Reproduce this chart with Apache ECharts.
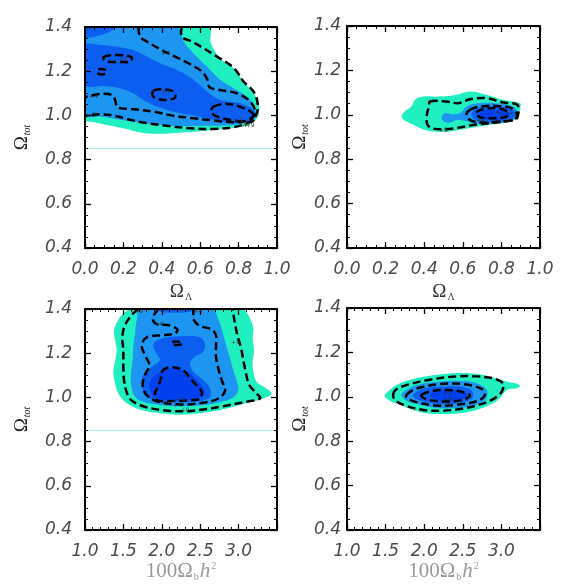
<!DOCTYPE html>
<html><head><meta charset="utf-8">
<script src="https://cdn.jsdelivr.net/npm/echarts@6/dist/echarts.min.js"></script>
<style>html,body{margin:0;padding:0;background:#fff}#c{width:566px;height:585px}</style>
</head><body><div id="c"></div>
<script>
// ---------- tick labels ----------
const yTickLabels = ['0.4','0.6','0.8','1.0','1.2','1.4'];
const lambdaTickLabels = ['0.0','0.2','0.4','0.6','0.8','1.0'];
const baryonTickLabels = ['1.0','1.5','2.0','2.5','3.0',''];

// ---------- reference line (Omega_tot = 0.85) ----------
const refLineLambda = [[0,0.85],[1,0.85]];
const refLineBaryon = [[1.0,0.85],[3.5,0.85]];

// ---------- top-left: Omega_Lambda vs Omega_tot ----------
const tlFill1 = [[0,1.4],[0.643,1.4],[0.656,1.326],[0.704,1.258],[0.774,1.213],[0.826,1.153],[0.878,1.1],[0.904,1.055],[0.904,1.002],[0.87,0.965],[0.809,0.947],[0.687,0.935],[0.53,0.924],[0.374,0.917],[0.287,0.923],[0.2,0.942],[0.113,0.957],[0.026,0.972],[0,0.977]];
const tlFill2 = [[0,1.4],[0.496,1.4],[0.51,1.341],[0.565,1.281],[0.635,1.221],[0.704,1.161],[0.774,1.123],[0.843,1.085],[0.882,1.04],[0.887,1.002],[0.852,0.972],[0.774,0.957],[0.635,0.953],[0.461,0.953],[0.322,0.962],[0.183,0.98],[0.078,0.995],[0,1.002]];
const tlFill3 = [[0,1.319],[0.078,1.319],[0.165,1.311],[0.252,1.296],[0.322,1.266],[0.391,1.236],[0.478,1.206],[0.565,1.161],[0.635,1.108],[0.704,1.07],[0.809,1.055],[0.878,1.025],[0.892,0.995],[0.843,0.968],[0.739,0.968],[0.635,0.987],[0.548,1.002],[0.461,1.017],[0.374,1.04],[0.304,1.07],[0.252,1.1],[0.183,1.123],[0.096,1.133],[0,1.138]];
const tlFill3b = [[0,1.4],[0.157,1.4],[0.13,1.379],[0.061,1.359],[0,1.353]];
const tlDash9 = [[0.504,1.4],[0.504,1.356],[0.557,1.334],[0.617,1.304],[0.687,1.266],[0.757,1.228],[0.791,1.198],[0.826,1.153],[0.878,1.108],[0.899,1.055],[0.892,1.002],[0.852,0.968],[0.774,0.947],[0.67,0.939],[0.548,0.942],[0.426,0.953],[0.322,0.965],[0.235,0.98],[0.157,0.998],[0.078,1.005],[0,0.998]];
const tlDash4 = [[0.278,1.4],[0.287,1.356],[0.322,1.334],[0.391,1.3],[0.461,1.269],[0.539,1.236],[0.609,1.198],[0.638,1.161],[0.649,1.127],[0.704,1.115],[0.791,1.1],[0.852,1.07],[0.882,1.033],[0.882,1.002],[0.843,0.977],[0.774,0.969],[0.67,0.977],[0.565,0.987],[0.461,0.998],[0.357,1.017],[0.252,1.028],[0.169,1.037],[0.157,1.07],[0.139,1.093],[0.078,1.097],[0,1.082]];
const tlDash1a = [[0.096,1.263],[0.13,1.272],[0.2,1.272],[0.243,1.263],[0.235,1.243],[0.183,1.242],[0.122,1.243],[0.099,1.251]];
const tlDash1b = [[0.11,1.206],[0.078,1.21],[0.061,1.198],[0.078,1.186],[0.11,1.188]];
const tlDash1c = [[0.357,1.112],[0.409,1.118],[0.461,1.108],[0.47,1.082],[0.435,1.07],[0.383,1.073],[0.353,1.088]];
const tlDash1d = [[0.67,1.04],[0.739,1.052],[0.826,1.033],[0.878,1.005],[0.87,0.972],[0.774,0.977],[0.687,0.995],[0.656,1.017]];

// ---------- top-right: Omega_Lambda vs Omega_tot (with prior) ----------
const trFill1 = [[0.282,0.992],[0.299,1.015],[0.334,1.037],[0.351,1.067],[0.394,1.082],[0.481,1.082],[0.567,1.09],[0.637,1.105],[0.723,1.09],[0.81,1.067],[0.896,1.052],[0.896,1.022],[0.879,0.985],[0.827,0.965],[0.74,0.955],[0.637,0.94],[0.533,0.925],[0.446,0.925],[0.394,0.935],[0.343,0.955],[0.299,0.974]];
const trFill2 = [[0.49,0.989],[0.507,1.007],[0.542,1.003],[0.585,1.007],[0.619,1.037],[0.671,1.052],[0.775,1.052],[0.862,1.037],[0.884,1.007],[0.862,0.977],[0.775,0.962],[0.671,0.959],[0.602,0.974],[0.567,0.977],[0.533,0.965],[0.502,0.97]];
const trFill3 = [[0.645,1.007],[0.671,1.03],[0.74,1.037],[0.827,1.034],[0.869,1.015],[0.862,0.985],[0.792,0.97],[0.706,0.97],[0.654,0.985]];
const trFill4 = [[0.685,1.007],[0.723,1.022],[0.792,1.022],[0.844,1.007],[0.827,0.985],[0.758,0.977],[0.696,0.985]];
const trDash9 = [[0.429,1.06],[0.516,1.06],[0.576,1.052],[0.637,1.07],[0.723,1.075],[0.81,1.055],[0.882,1.045],[0.888,1.007],[0.875,0.98],[0.792,0.968],[0.671,0.956],[0.567,0.94],[0.498,0.935],[0.438,0.94],[0.415,0.959],[0.415,1.007],[0.426,1.04]];
const trDash4 = [[0.637,1.022],[0.689,1.037],[0.775,1.04],[0.853,1.03],[0.879,1.007],[0.87,0.98],[0.792,0.97],[0.689,0.965],[0.637,0.977],[0.619,1.0]];
const trDash1 = [[0.671,1.01],[0.706,1.025],[0.775,1.03],[0.83,1.015],[0.827,0.992],[0.758,0.985],[0.689,0.989]];

// ---------- bottom-left: 100 Omega_b h^2 vs Omega_tot ----------
const blFill1 = [[1.608,1.4],[1.499,1.38],[1.434,1.35],[1.378,1.305],[1.391,1.26],[1.412,1.214],[1.391,1.161],[1.369,1.116],[1.391,1.063],[1.434,1.018],[1.521,0.98],[1.673,0.95],[1.933,0.93],[2.237,0.922],[2.541,0.93],[2.845,0.95],[3.105,0.975],[3.322,0.995],[3.43,1.018],[3.344,1.045],[3.235,1.07],[3.192,1.116],[3.183,1.161],[3.2,1.214],[3.183,1.267],[3.192,1.312],[3.148,1.358],[3.083,1.395],[3.062,1.4]];
const blFill2 = [[1.716,1.4],[1.673,1.35],[1.651,1.29],[1.629,1.229],[1.621,1.169],[1.595,1.093],[1.608,1.04],[1.651,1.002],[1.759,0.98],[1.933,0.968],[2.193,0.96],[2.454,0.963],[2.714,0.975],[2.931,0.999],[2.996,1.033],[2.975,1.078],[2.931,1.123],[2.888,1.176],[2.845,1.229],[2.801,1.282],[2.758,1.335],[2.706,1.38],[2.68,1.4]];
const blFill3 = [[1.911,1.252],[2.063,1.272],[2.324,1.278],[2.497,1.272],[2.562,1.244],[2.541,1.207],[2.432,1.184],[2.367,1.154],[2.41,1.116],[2.541,1.078],[2.628,1.04],[2.628,1.002],[2.497,0.983],[2.237,0.978],[1.976,0.984],[1.803,1.002],[1.738,1.048],[1.759,1.101],[1.868,1.139],[1.976,1.169],[1.933,1.199],[1.89,1.229]];
const blFill3b = [[1.933,1.4],[2.41,1.4],[2.367,1.388],[2.15,1.383],[1.976,1.388]];
const blFill4 = [[1.911,1.1],[2.107,1.131],[2.324,1.116],[2.497,1.063],[2.562,1.018],[2.454,0.993],[2.193,0.987],[1.933,0.995],[1.846,1.033],[1.846,1.07]];
const blDash9 = [[1.694,1.4],[1.608,1.373],[1.521,1.327],[1.486,1.275],[1.499,1.214],[1.499,1.139],[1.508,1.078],[1.534,1.033],[1.595,0.99],[1.759,0.96],[2.02,0.942],[2.28,0.937],[2.541,0.945],[2.801,0.96],[3.062,0.978],[3.279,0.995],[3.235,1.018],[3.14,1.055],[3.096,1.108],[3.062,1.169],[3.027,1.229],[2.983,1.282],[2.953,1.335],[2.931,1.38],[2.923,1.4]];
const blDash4 = [[1.955,1.4],[1.881,1.358],[1.933,1.332],[2.085,1.327],[2.202,1.308],[2.172,1.29],[2.02,1.282],[1.803,1.272],[1.738,1.237],[1.781,1.191],[1.838,1.146],[1.781,1.101],[1.751,1.055],[1.803,1.01],[1.955,0.98],[2.237,0.968],[2.519,0.975],[2.736,0.995],[2.823,1.03],[2.779,1.078],[2.736,1.131],[2.706,1.184],[2.706,1.237],[2.706,1.282],[2.649,1.308],[2.497,1.323],[2.419,1.35],[2.41,1.38],[2.419,1.4]];
const blDash1a = [[2.0,1.116],[2.072,1.134],[2.193,1.134],[2.302,1.116],[2.367,1.086],[2.454,1.055],[2.519,1.025],[2.497,0.995],[2.367,0.987],[2.15,0.984],[1.933,0.987],[1.911,1.018],[1.955,1.051],[1.985,1.081]];
const blDash1b = [[2.237,1.252],[2.15,1.252],[2.128,1.241],[2.202,1.237],[2.28,1.24]];

// ---------- bottom-right: 100 Omega_b h^2 vs Omega_tot (with prior) ----------
const brFill1 = [[1.489,1.006],[1.554,1.031],[1.683,1.061],[1.9,1.084],[2.159,1.099],[2.419,1.107],[2.678,1.104],[2.894,1.087],[3.067,1.069],[3.219,1.057],[3.24,1.046],[3.197,1.039],[3.067,1.031],[2.981,0.994],[2.851,0.964],[2.678,0.941],[2.462,0.926],[2.246,0.922],[2.029,0.926],[1.856,0.941],[1.683,0.964],[1.554,0.982]];
const brFill2 = [[1.705,1.009],[1.77,1.032],[1.943,1.057],[2.202,1.069],[2.462,1.072],[2.678,1.062],[2.808,1.032],[2.808,0.994],[2.678,0.964],[2.419,0.949],[2.159,0.949],[1.943,0.964],[1.77,0.982]];
const brFill3 = [[1.856,1.009],[1.986,1.036],[2.246,1.046],[2.462,1.046],[2.616,1.027],[2.629,0.997],[2.508,0.976],[2.246,0.967],[2.029,0.976],[1.891,0.991]];
const brFill4 = [[2.073,1.009],[2.203,1.027],[2.419,1.031],[2.549,1.016],[2.527,0.994],[2.332,0.982],[2.159,0.986]];
const brDash9 = [[1.597,1.009],[1.649,1.036],[1.813,1.057],[2.073,1.077],[2.419,1.092],[2.678,1.092],[2.916,1.081],[3.024,1.057],[2.99,1.016],[2.851,0.982],[2.657,0.959],[2.419,0.943],[2.202,0.937],[1.986,0.941],[1.77,0.959],[1.632,0.982]];
const brDash4 = [[1.77,1.009],[1.891,1.036],[2.202,1.057],[2.505,1.057],[2.743,1.036],[2.786,1.009],[2.7,0.982],[2.419,0.964],[2.159,0.961],[1.9,0.976],[1.779,0.994]];
const brDash1 = [[1.965,1.009],[2.073,1.024],[2.289,1.031],[2.505,1.021],[2.592,1.006],[2.497,0.986],[2.289,0.979],[2.073,0.985],[1.977,0.998]];

// ---------- contour level labels: [x, y, text] per panel ----------
const tlLevelLabels = [[0.035,1.0,'+9'],[0.045,1.088,'+4'],[0.2,1.252,'+1'],[0.42,1.108,'+1'],[0.8,0.975,'+1'],[0.82,0.955,'+4'],[0.86,0.955,'+9'],[0.42,1.28,'+4']];
const trLevelLabels = [[0.5,0.93,'+9'],[0.79,1.01,'+1'],[0.84,1.01,'+1'],[0.69,0.975,'+4']];
const blLevelLabels = [[1.7,1.39,'+9'],[1.96,1.33,'+4'],[2.47,1.39,'+4'],[2.96,1.25,'+9'],[2.25,0.99,'+1'],[2.2,0.965,'+4'],[2.3,0.94,'+9']];
const brLevelLabels = [[2.3,1.015,'+1'],[2.3,0.99,'+4'],[2.3,0.96,'+9']];

// ---------- styling ----------
const COL = ['#20f0c0', '#1c96f0', '#0b5ef0', '#0040ee'];
const gridsPos = [
  {left:85, top:27, width:192, height:221},
  {left:347, top:26, width:193, height:222},
  {left:85, top:309, width:192, height:221},
  {left:347, top:308, width:193, height:222}
];
const labelFont = {fontFamily:'DejaVu Sans', fontStyle:'italic', fontSize:17, color:'#4a4a4a'};

function xAxes(gi) {
  const isB = gi >= 2;
  const common = {
    gridIndex: gi, type:'value', min: isB ? 1.0 : 0, max: isB ? 3.5 : 1.0, interval: isB ? 0.5 : 0.2,
    axisLine:{show:true, onZero:false, lineStyle:{color:'#000', width:2}},
    axisTick:{show:true, inside:true, length:6, lineStyle:{color:'#000', width:1.3}},
    minorTick:{show:true, splitNumber: isB ? 5 : 4, length:3, lineStyle:{color:'#000', width:1}},
    splitLine:{show:false}, z:10
  };
  const labels = isB ? baryonTickLabels : lambdaTickLabels;
  const step = isB ? 0.5 : 0.2, base = isB ? 1.0 : 0;
  const bottom = Object.assign({}, common, {
    position:'bottom',
    axisLabel:Object.assign({show:true, margin:13, formatter:v => labels[Math.round((v-base)/step)] || ''}, labelFont),
    name: isB ? '{n|100Ω}{s|b}{h|h}{p|2}' : '{o|Ω}{s|Λ}',
    nameLocation:'middle', nameGap: isB ? 31 : 34,
    nameTextStyle: isB ? {
      color:'#999',
      rich:{
        n:{fontFamily:'Liberation Serif', fontSize:21, color:'#999'},
        s:{fontFamily:'Liberation Serif', fontSize:10, color:'#999', padding:[11,0,0,1]},
        h:{fontFamily:'Liberation Serif', fontStyle:'italic', fontSize:21, color:'#999', padding:[0,0,0,1]},
        p:{fontFamily:'Liberation Serif', fontSize:10, color:'#999', padding:[0,0,11,1]}
      }
    } : {
      color:'#333',
      rich:{
        o:{fontFamily:'Liberation Serif', fontSize:19, color:'#333'},
        s:{fontFamily:'Liberation Serif', fontSize:10, color:'#333', padding:[10,0,0,1]}
      }
    }
  });
  const top = Object.assign({}, common, {position:'top', axisLabel:{show:false}});
  return [bottom, top];
}
function yAxes(gi) {
  const isRight = gi % 2 === 1;
  const common = {
    gridIndex: gi, type:'value', min:0.4, max:1.4, interval:0.2,
    axisLine:{show:true, onZero:false, lineStyle:{color:'#000', width:2}},
    axisTick:{show:true, inside:true, length:6, lineStyle:{color:'#000', width:1.3}},
    minorTick:{show:true, splitNumber:4, length:3, lineStyle:{color:'#000', width:1}},
    splitLine:{show:false}, z:10
  };
  const left = Object.assign({}, common, {
    position:'left',
    axisLabel:Object.assign({show:true, margin: isRight ? 6 : 13, formatter:v => yTickLabels[Math.round((v-0.4)/0.2)] || ''}, labelFont),
    name:'{o|Ω}{s|tot}', nameLocation:'middle', nameGap: isRight ? 30 : 53,
    nameTextStyle:{color:'#222', rich:{
      o:{fontFamily:'Liberation Serif', fontSize:19, color:'#222'},
      s:{fontFamily:'Liberation Serif', fontStyle:'italic', fontSize:10, color:'#222', padding:[10,0,0,1]}
    }}
  });
  const right = Object.assign({}, common, {position:'right', axisLabel:{show:false}});
  return [left, right];
}

function fillSeries(gi, pts, color) {
  return {
    type:'custom', coordinateSystem:'cartesian2d', xAxisIndex:gi*2, yAxisIndex:gi*2,
    data:pts, silent:true, z:2, clip:true,
    renderItem:(params, api) => {
      if (params.dataIndex !== 0) return null;
      const cs = params.coordSys;
      return {type:'polygon', shape:{points:pts.map(p => api.coord(p)), smooth:0.35,
              smoothConstraint:[[cs.x, cs.y],[cs.x+cs.width, cs.y+cs.height]]},
              style:{fill:color}};
    }
  };
}
function dashSeries(gi, pts, closed) {
  return {
    type:'custom', coordinateSystem:'cartesian2d', xAxisIndex:gi*2, yAxisIndex:gi*2,
    data:pts, silent:true, z:4, clip:true,
    renderItem:(params, api) => {
      if (params.dataIndex !== 0) return null;
      const cs = params.coordSys;
      return {type: closed ? 'polygon' : 'polyline',
              shape:{points:pts.map(p => api.coord(p)), smooth:0.35,
                     smoothConstraint:[[cs.x, cs.y],[cs.x+cs.width, cs.y+cs.height]]},
              style:{fill:'none', stroke:'#000', lineWidth:2.5, lineDash:[8,4]}};
    }
  };
}
function levelLabelSeries(gi, items) {
  return {
    type:'custom', coordinateSystem:'cartesian2d', xAxisIndex:gi*2, yAxisIndex:gi*2,
    data:items.map(d => [d[0], d[1]]), silent:true, z:5,
    renderItem:(params, api) => {
      const p = api.coord([api.value(0), api.value(1)]);
      return {type:'text', x:p[0], y:p[1],
              style:{text:items[params.dataIndex][2], fill:'#333', fontSize:6, fontFamily:'DejaVu Sans',
                     align:'center', verticalAlign:'middle'}};
    }
  };
}
function refLine(gi, pts) {
  return {type:'line', xAxisIndex:gi*2, yAxisIndex:gi*2, data:pts, symbol:'none', silent:true, z:1,
          lineStyle:{color:'#a6eef4', width:1}};
}

const series = [
  refLine(0, refLineLambda),
  fillSeries(0, tlFill1, COL[0]), fillSeries(0, tlFill2, COL[1]), fillSeries(0, tlFill3, COL[2]), fillSeries(0, tlFill3b, COL[2]),
  dashSeries(0, tlDash9, false), dashSeries(0, tlDash4, false), dashSeries(0, tlDash1a, true), dashSeries(0, tlDash1b, false),
  dashSeries(0, tlDash1c, true), dashSeries(0, tlDash1d, true), levelLabelSeries(0, tlLevelLabels),

  fillSeries(1, trFill1, COL[0]), fillSeries(1, trFill2, COL[1]), fillSeries(1, trFill3, COL[2]), fillSeries(1, trFill4, COL[3]),
  dashSeries(1, trDash9, true), dashSeries(1, trDash4, true), dashSeries(1, trDash1, true), levelLabelSeries(1, trLevelLabels),

  refLine(2, refLineBaryon),
  fillSeries(2, blFill1, COL[0]), fillSeries(2, blFill2, COL[1]), fillSeries(2, blFill3, COL[2]), fillSeries(2, blFill3b, COL[2]), fillSeries(2, blFill4, COL[3]),
  dashSeries(2, blDash9, false), dashSeries(2, blDash4, false), dashSeries(2, blDash1a, true), dashSeries(2, blDash1b, false),
  levelLabelSeries(2, blLevelLabels),

  fillSeries(3, brFill1, COL[0]), fillSeries(3, brFill2, COL[1]), fillSeries(3, brFill3, COL[2]), fillSeries(3, brFill4, COL[3]),
  dashSeries(3, brDash9, true), dashSeries(3, brDash4, true), dashSeries(3, brDash1, true), levelLabelSeries(3, brLevelLabels)
];

const chart = echarts.init(document.getElementById('c'), null, {renderer:'canvas'});
chart.setOption({
  animation:false,
  backgroundColor:'#fff',
  grid: gridsPos.map(g => Object.assign({containLabel:false}, g)),
  xAxis: [0,1,2,3].flatMap(xAxes),
  yAxis: [0,1,2,3].flatMap(yAxes),
  series
});
</script></body></html>
